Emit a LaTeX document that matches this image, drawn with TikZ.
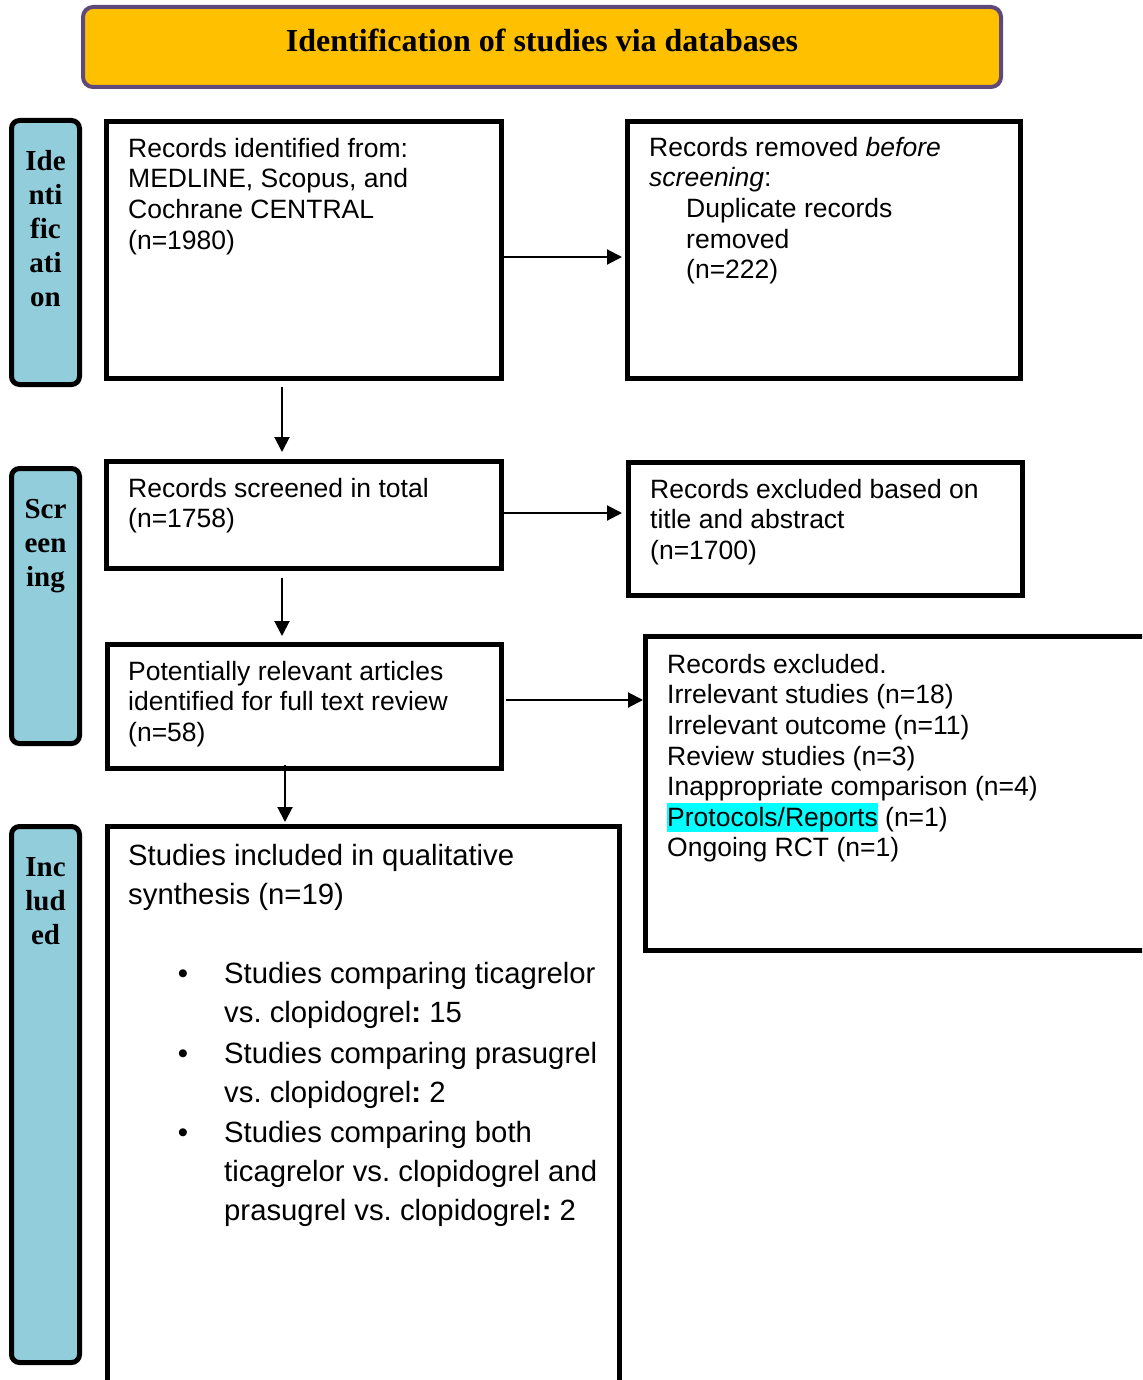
\documentclass[tikz,border=0pt]{standalone}
\usepackage{fontspec}
\setmainfont{Liberation Sans}
\newfontfamily\serifb{Liberation Serif}
\usetikzlibrary{arrows.meta,calc}
\definecolor{bannerfill}{HTML}{FFC000}
\definecolor{bannerdraw}{HTML}{5F497A}
\definecolor{sidefill}{HTML}{92CDDC}
\definecolor{hl}{HTML}{00FFFF}
\newcommand{\fl}{\rule{0pt}{21pt}}
\newcommand{\flb}{\rule{0pt}{23.5pt}}
\setlength{\fboxsep}{0pt}
\frenchspacing
\begin{document}
\begin{tikzpicture}[x=1pt,y=-1pt,
  box/.style={draw=black,line width=5pt,fill=white,inner sep=0pt},
  side/.style={draw=black,line width=5pt,fill=sidefill,rounded corners=8pt,inner sep=0pt},
  banner/.style={draw=bannerdraw,line width=4pt,fill=bannerfill,rounded corners=10pt,inner sep=0pt},
  arr/.style={line width=2pt,-{Triangle[length=15pt,width=15pt]}},
  txt/.style={anchor=north west,inner sep=0pt,align=left,font=\fontsize{26.5}{30.6}\selectfont},
  bigtxt/.style={anchor=north west,inner sep=0pt,align=left,font=\fontsize{29.3}{39}\selectfont},
  bul/.style={anchor=base,inner sep=0pt,font=\fontsize{29.3}{39}\selectfont},
  sidetxt/.style={anchor=north,inner sep=0pt,align=center,font=\serifb\bfseries\fontsize{29}{34}\selectfont},
  titletxt/.style={inner sep=0pt,font=\serifb\bfseries\fontsize{32}{38}\selectfont}
]
\useasboundingbox (0,0) rectangle (1142,1380);
\clip (0,0) rectangle (1142,1380);

% banner
\node[banner,minimum width=918pt,minimum height=80pt] (banner) at (542,47) {};
\node[titletxt] (title) at (542,40) {Identification of studies via databases};

% side labels
\node[side,minimum width=68pt,minimum height=264pt] (s1) at (45.5,252.5) {};
\node[side,minimum width=68pt,minimum height=275pt] (s2) at (45.5,606) {};
\node[side,minimum width=68pt,minimum height=536pt] (s3) at (45.5,1094.5) {};
\node[sidetxt] (s1t) at (45.5,149) {\fl Ide\\nti\\fic\\ati\\on};
\node[sidetxt] (s2t) at (45.5,497) {\fl Scr\\een\\ing};
\node[sidetxt] (s3t) at (45.5,855) {\fl Inc\\lud\\ed};

% boxes
\node[box,minimum width=395pt,minimum height=257pt] (b1) at (303.5,250) {};
\node[box,minimum width=393pt,minimum height=257pt] (b2) at (824,250) {};
\node[box,minimum width=395pt,minimum height=107pt] (b3) at (303.5,515) {};
\node[box,minimum width=394pt,minimum height=133pt] (b4) at (825.5,529) {};
\node[box,minimum width=394pt,minimum height=124pt] (b5) at (304.5,706.5) {};
\node[box,minimum width=522pt,minimum height=314pt] (b6) at (906.5,793.5) {};
\node[box,minimum width=512pt,minimum height=571pt] (b7) at (363.5,1112) {};

% texts
\node[txt] (t1) at (128,136) {\fl Records identified from:\\MEDLINE, Scopus, and\\Cochrane CENTRAL\\(n=1980)};
\node[txt] (t2) at (649,135) {\fl Records removed \textit{before}\\\textit{screening}:\\\hspace*{37pt}Duplicate records\\\hspace*{37pt}removed\\\hspace*{37pt}(n=222)};
\node[txt] (t3) at (128,476) {\fl Records screened in total\\(n=1758)};
\node[txt] (t4) at (650,477) {\fl Records excluded based on\\title and abstract\\(n=1700)};
\node[txt] (t5) at (128,659) {\fl Potentially relevant articles\\identified for full text review\\(n=58)};
\node[txt] (t6) at (667,652) {\fl Records excluded.\\Irrelevant studies (n=18)\\Irrelevant outcome (n=11)\\Review studies (n=3)\\Inappropriate comparison (n=4)\\\colorbox{hl}{\rule[-5pt]{0pt}{28pt}Protocols/Reports} (n=1)\\Ongoing RCT (n=1)};
\node[bigtxt] (t7) at (128,842) {\flb Studies included in qualitative\\synthesis (n=19)};

\node[bul] (u1) at (183,983.5) {\textbullet};
\node[bigtxt] (i1) at (224,960) {\flb Studies comparing ticagrelor\\vs. clopidogrel\textbf{:} 15};
\node[bul] (u2) at (183,1063.5) {\textbullet};
\node[bigtxt] (i2) at (224,1040) {\flb Studies comparing prasugrel\\vs. clopidogrel\textbf{:} 2};
\node[bul] (u3) at (183,1142.5) {\textbullet};
\node[bigtxt] (i3) at (224,1119) {\flb Studies comparing both\\ticagrelor vs. clopidogrel and\\prasugrel vs. clopidogrel\textbf{:} 2};

% arrows
\draw[arr] ($(b1.east)+(0,7)$) -- ($(b2.west)+(-3,7)$);
\draw[arr] ($(b1.south)+(-21.5,6)$) -- ($(b3.north)+(-21.5,-7)$);
\draw[arr] ($(b3.east)+(0,-2)$) -- ($(b4.west)+(-4,-16)$);
\draw[arr] ($(b3.south)+(-21.5,7)$) -- ($(b5.north)+(-22.5,-6)$);
\draw[arr] ($(b5.east)+(2,-6.5)$) -- ($(b6.west)+(0,-93.5)$);
\draw[arr] ($(b5.south)+(-19.5,-6)$) -- ($(b7.north)+(-78.5,-2)$);
\end{tikzpicture}
\end{document}
